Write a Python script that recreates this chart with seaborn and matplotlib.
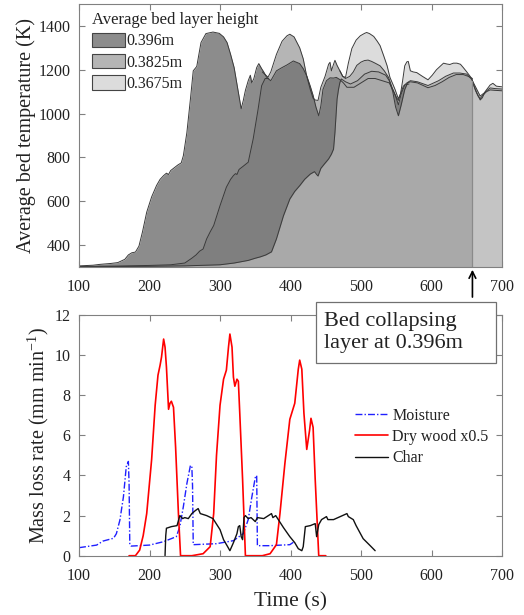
"""
plot.py
Average bed temperature per layer (top) and mass loss rates (bottom)
"""

import matplotlib
matplotlib.use('Agg')
import matplotlib.pyplot as plt
from matplotlib.patches import Patch, Rectangle
import seaborn as sns

# ---- top panel: temperature fronts (s, K) ----
t_front1 = [100, 120, 130, 145, 155, 165, 170, 175, 180, 185, 190, 196, 203, 210, 215, 220, 224, 227,
            230, 240, 245, 248, 253, 258, 262, 267, 273, 280, 290, 299, 305, 310, 315, 320, 326, 330,
            333, 336, 340, 343, 345, 348, 352, 355, 359, 362, 366, 369]
T_front1 = [305, 308, 312, 316, 320, 335, 355, 365, 368, 395, 460, 550, 620, 672, 700, 717, 728, 722,
            740, 765, 775, 808, 914, 1066, 1195, 1215, 1324, 1365, 1372, 1366, 1350, 1324, 1270, 1210, 1097, 1022,
            1060, 1106, 1150, 1175, 1140, 1160, 1210, 1228, 1205, 1190, 1166, 1160]

t_front2 = [100, 150, 200, 230, 250, 260, 266, 271, 276, 281, 286, 291, 300, 309, 315, 319, 322, 324,
            327, 333, 340, 347, 354, 359, 364, 368, 372, 380, 388, 395, 404, 413, 418, 423, 428, 432,
            436, 440, 443, 446, 451, 456, 461, 465, 470, 475, 480, 490, 500, 510, 520, 530, 540, 545,
            549, 553, 557, 562, 568]
T_front2 = [302, 304, 307, 310, 318, 340, 355, 372, 382, 428, 460, 489, 580, 664, 700, 717, 726, 722,
            745, 760, 778, 884, 1020, 1127, 1160, 1160, 1150, 1195, 1210, 1222, 1240, 1228, 1205, 1172, 1125, 1083,
            1030, 990, 1035, 1110, 1150, 1163, 1162, 1165, 1155, 1140, 1120, 1120, 1140, 1160, 1160, 1150, 1140, 1110,
            1080, 1040, 1090, 1130, 1135]

t_front3 = [100, 150, 200, 250, 300, 320, 340, 350, 357, 365, 373, 380, 390, 399, 406, 413, 420, 428,
            434, 437, 439, 443, 448, 454, 458, 461, 463, 466, 468, 470, 472, 478, 485, 495, 505, 515,
            525, 535, 540, 545, 549, 553, 557, 562, 566, 570, 580, 595, 605, 615, 625, 635, 645, 652, 658]
T_front3 = [301, 302, 303, 305, 310, 318, 330, 340, 346, 355, 369, 428, 534, 610, 645, 671, 700, 724,
            735, 722, 715, 750, 770, 793, 815, 838, 914, 1066, 1110, 1142, 1158, 1145, 1135, 1150, 1180, 1193,
            1190, 1175, 1150, 1100, 1030, 990, 1040, 1110, 1140, 1145, 1140, 1118, 1128, 1145, 1165, 1178, 1178, 1170, 1160]

# after the 0.396m layer collapses
t_collapsed = [658, 662, 666, 669, 673, 678, 683, 690, 700]
T_collapsed = [1148, 1108, 1080, 1068, 1085, 1100, 1108, 1106, 1104]

t_mid = [360, 368, 372, 380, 388, 395, 399, 405, 413, 418, 423, 428, 432, 435, 439, 443, 449, 454,
         456, 458, 461, 463, 466, 470, 474, 478, 484, 489, 494, 500, 505, 510, 515, 520, 527, 533,
         539, 545, 550, 553, 556, 560, 565, 570, 580, 595, 610, 620, 631, 640, 650, 657, 663, 669,
         675, 683, 690, 700]
T_mid = [1190, 1166, 1190, 1270, 1330, 1355, 1362, 1350, 1300, 1250, 1170, 1110, 1070, 1062, 1060, 1120, 1170, 1225,
         1234, 1195, 1225, 1243, 1220, 1195, 1170, 1160, 1170, 1190, 1220, 1235, 1242, 1244, 1238, 1230, 1218, 1195,
         1165, 1110, 1075, 1060, 1090, 1125, 1140, 1150, 1145, 1128, 1150, 1170, 1185, 1185, 1180, 1156, 1118, 1080,
         1095, 1117, 1114, 1112]

t_top = [470, 474, 478, 482, 487, 493, 499, 505, 508, 512, 518, 523, 527, 532, 537, 541, 545, 548,
         551, 553, 556, 559, 562, 565, 567, 570, 574, 579, 587, 595, 601, 607, 612, 617, 622, 626,
         631, 636, 641, 645, 650, 657, 660, 664, 669, 672, 676, 683, 687, 692, 700]
T_top = [1195, 1170, 1165, 1230, 1297, 1335, 1355, 1366, 1370, 1365, 1352, 1330, 1310, 1265, 1218, 1165, 1135, 1112,
         1085, 1068, 1090, 1150, 1218, 1236, 1238, 1195, 1190, 1187, 1170, 1154, 1175, 1200, 1215, 1230, 1226, 1224,
         1230, 1230, 1225, 1210, 1190, 1160, 1128, 1095, 1062, 1072, 1100, 1130, 1138, 1125, 1122]

legend_heights = ['0.396m', '0.3825m', '0.3675m']
t_collapse = 658

# ---- bottom panel: mass loss rates (mm/min) ----
t_moist = [100, 125, 134, 149, 153, 158, 163, 167, 170, 171, 172, 174, 200, 220, 238, 243, 248, 253,
           258, 260, 261, 262, 295, 319, 333, 340, 345, 350, 352, 353, 370, 399, 404]
moisture = [0.40, 0.53, 0.73, 0.87, 1.10, 1.78, 2.94, 4.44, 4.70, 3.60, 0.55, 0.48, 0.53, 0.70, 0.95, 1.45, 2.45, 3.60,
            4.50, 4.45, 3.50, 0.55, 0.60, 0.75, 1.10, 1.80, 2.90, 3.90, 4.00, 0.50, 0.50, 0.55, 0.67]

t_wood = [171, 180, 186, 191, 196, 203, 208, 212, 215, 217, 220, 222, 224, 227, 229, 231, 234, 237,
          241, 244, 260, 276, 286, 291, 295, 300, 305, 309, 312, 314, 317, 319, 321, 324, 326, 328,
          332, 336, 360, 371, 380, 385, 392, 399, 406, 411, 413, 416, 419, 423, 427, 429, 432, 435,
          440, 450]
dry_wood = [0.0, 0.0, 0.28, 1.0, 2.1, 4.8, 7.5, 9.0, 9.5, 9.9, 10.8, 10.4, 9.4, 7.3, 7.6, 7.7, 7.4, 5.4,
            2.1, 0.0, 0.0, 0.1, 0.45, 2.1, 5.0, 7.5, 8.8, 9.25, 10.4, 11.05, 10.4, 8.9, 8.45, 8.8, 8.7, 7.1,
            3.8, 0.0, 0.0, 0.1, 0.55, 2.1, 4.6, 6.8, 7.6, 9.3, 9.75, 9.3, 7.1, 5.3, 6.25, 6.85, 6.4, 3.8,
            0.0, 0.0]

t_char = [222, 223, 224, 231, 239, 243, 247, 250, 255, 260, 265, 269, 272, 281, 290, 300, 305, 310,
          314, 319, 324, 326, 328, 330, 332, 334, 336, 340, 344, 350, 353, 362, 373, 375, 379, 390,
          399, 406, 411, 416, 418, 421, 428, 435, 437, 440, 444, 451, 453, 461, 480, 482, 489, 493,
          503, 513, 520]
char = [0.0, 1.0, 1.37, 1.45, 1.50, 2.00, 1.85, 1.90, 1.85, 2.10, 2.25, 2.35, 2.10, 2.00, 1.85, 1.30, 0.80, 0.50,
        0.25, 0.65, 1.10, 1.45, 1.50, 0.95, 0.80, 1.90, 2.00, 1.85, 1.90, 1.70, 1.90, 1.85, 2.10, 1.90,
        2.00, 1.40, 0.95, 0.65, 0.35, 0.25, 0.45, 1.45, 1.50, 1.60, 0.95, 1.55, 1.80, 1.95, 1.80, 1.80,
        2.10, 1.95, 1.80, 1.50, 0.85, 0.50, 0.25]

sns.set_style('ticks')
plt.rcParams['font.family'] = ['Liberation Serif', 'DejaVu Serif']
plt.rcParams['mathtext.fontset'] = 'custom'
plt.rcParams['mathtext.rm'] = 'Liberation Serif'
plt.rcParams['mathtext.it'] = 'Liberation Serif:italic'
plt.rcParams['text.color'] = '#222222'
plt.rcParams['axes.labelcolor'] = '#222222'
plt.rcParams['xtick.color'] = '#808080'
plt.rcParams['ytick.color'] = '#808080'
plt.rcParams['xtick.labelcolor'] = '#222222'
plt.rcParams['ytick.labelcolor'] = '#222222'

fig = plt.figure(figsize=(5.24, 6.15), dpi=100)
ax1 = fig.add_axes([0.1508, 0.5659, 0.8073, 0.4276])
ax2 = fig.add_axes([0.1508, 0.0964, 0.8073, 0.3914])

col_top, col_mid, col_dark = '#dcdcdc', '#b5b5b5', '#8c8c8c'
col_front2, col_front3, col_after = '#7f7f7f', '#a9a9a9', '#c4c4c4'
edge = '#3a3a3a'

# filled layers, back to front
layers = [
    (t_top, T_top, col_top),
    (t_mid, T_mid, col_mid),
    (t_front1, T_front1, col_dark),
    (t_front2, T_front2, col_front2),
    (t_front3, T_front3, col_front3),
    (t_collapsed, T_collapsed, col_after),
]
for tt, TT, c in layers:
    ax1.fill_between(tt, 300, TT, color=c, lw=0)
    sns.lineplot(x=tt, y=TT, ax=ax1, color=edge, lw=0.7, estimator=None, sort=False)

ax1.plot([t_collapse, t_collapse], [300, T_collapsed[0]], color='#8a8a8a', lw=0.9)

ax1.set_xlim(100, 700)
ax1.set_ylim(300, 1500)
ax1.set_xticks(range(100, 701, 100))
ax1.set_yticks(range(400, 1401, 200))
ax1.set_ylabel('Average bed temperature (K)', fontsize=14.5, labelpad=2)

handles = [Patch(facecolor=c, edgecolor='#444444', lw=0.8) for c in (col_dark, col_mid, col_top)]
leg1 = ax1.legend(handles, legend_heights, title='Average bed layer height', loc='upper left',
                  bbox_to_anchor=(0.03, 0.97), frameon=False, fontsize=11.5, title_fontsize=12,
                  handlelength=2.1, handleheight=1.0, handletextpad=0.1, labelspacing=0.3,
                  borderpad=0, borderaxespad=0, alignment='left')

# ---- bottom panel ----
sns.lineplot(x=t_moist, y=moisture, ax=ax2, color='#2020ff', lw=1.0, dashes=False,
             estimator=None, sort=False, label='Moisture')
ax2.lines[-1].set_linestyle((0, (5, 1.5, 1, 1.5)))
sns.lineplot(x=t_wood, y=dry_wood, ax=ax2, color='#ff0000', lw=1.2,
             estimator=None, sort=False, label='Dry wood x0.5')
sns.lineplot(x=t_char, y=char, ax=ax2, color='#111111', lw=1.0,
             estimator=None, sort=False, label='Char')

ax2.set_xlim(100, 700)
ax2.set_ylim(0, 12)
ax2.set_xticks(range(100, 701, 100))
ax2.set_yticks(range(0, 13, 2))
ax2.set_xlabel('Time (s)', fontsize=15.5, labelpad=6)
ax2.set_ylabel('Mass loss rate (mm min$^{-1}$)', fontsize=14.5, labelpad=3)
ax2.legend(loc='upper left', bbox_to_anchor=(0.652, 0.615), frameon=False, fontsize=11.5,
           handlelength=2.1, handletextpad=0.25, labelspacing=0.33, borderpad=0, borderaxespad=0)

for ax in (ax1, ax2):
    ax.tick_params(direction='in', top=True, right=True, length=4, width=0.8, labelsize=11.5)
    ax.tick_params(axis='x', pad=9)
    ax.tick_params(axis='y', pad=6)
    for s in ax.spines.values():
        s.set_color('#808080')
        s.set_linewidth(0.8)
        s.set_visible(True)

# collapse annotation: arrow and boxed note
ax1.annotate('', xy=(t_collapse, 300), xytext=(t_collapse, 150), xycoords='data', textcoords='data',
             arrowprops=dict(arrowstyle='->', color='black', lw=1.2, mutation_scale=12),
             annotation_clip=False)
fig.patches.append(Rectangle((0.603, 0.4098), 0.3435, 0.0992, transform=fig.transFigure,
                             facecolor='white', edgecolor='#707070', lw=0.9, zorder=5))
fig.text(0.618, 0.4593, 'Bed collapsing\nlayer at 0.396m', fontsize=16, ha='left', va='center',
         linespacing=1.2, zorder=6)

plt.savefig('out.png', dpi=100)
